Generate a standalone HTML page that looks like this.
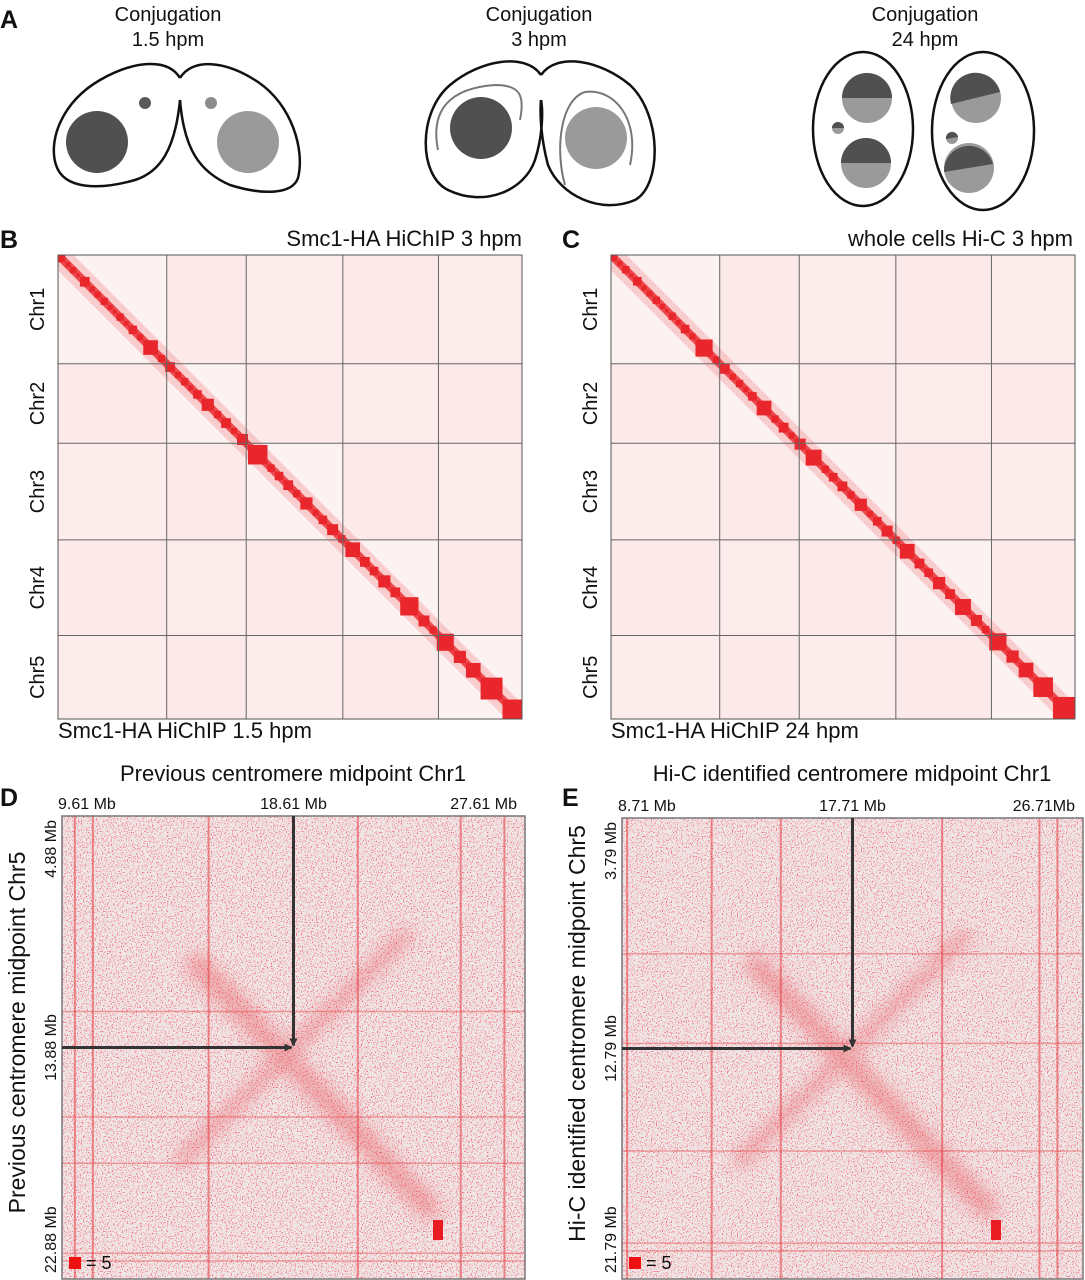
<!DOCTYPE html>
<html><head><meta charset="utf-8"><style>
html,body{margin:0;padding:0;background:#fff;width:1085px;height:1280px;overflow:hidden}
svg{display:block;font-family:"Liberation Sans",Arial,sans-serif}
</style></head><body>
<svg id="fig" width="1085" height="1280" viewBox="0 0 1085 1280">
<defs>
<filter id="speck" x="0" y="0" width="1" height="1">
<feTurbulence type="fractalNoise" baseFrequency="0.8" numOctaves="1" seed="3"/>
<feColorMatrix type="matrix" values="0 0 0 0 0.92  0 0 0 0 0.12  0 0 0 0 0.18  7 0 0 0 -3.9"/>
</filter>
<filter id="speck2" x="0" y="0" width="1" height="1">
<feTurbulence type="fractalNoise" baseFrequency="0.8" numOctaves="1" seed="9"/>
<feColorMatrix type="matrix" values="0 0 0 0 0.92  0 0 0 0 0.12  0 0 0 0 0.18  7 0 0 0 -3.9"/>
</filter>
<filter id="blur4"><feGaussianBlur stdDeviation="8"/></filter>
<clipPath id="clipB"><rect x="58" y="255" width="464" height="464"/></clipPath>
<clipPath id="clipC"><rect x="611" y="255" width="464" height="464"/></clipPath>
<marker id="arr" markerWidth="8" markerHeight="8" refX="7" refY="4" orient="auto" markerUnits="userSpaceOnUse"><path d="M0,0 L8,4 L0,8 z" fill="#333"/></marker>
</defs>

<g font-size="20" fill="#111">
<text x="0" y="28" font-size="25" font-weight="bold">A</text>
<text x="168" y="21" text-anchor="middle">Conjugation</text>
<text x="168" y="46" text-anchor="middle">1.5 hpm</text>
<text x="539" y="21" text-anchor="middle">Conjugation</text>
<text x="539" y="46" text-anchor="middle">3 hpm</text>
<text x="925" y="21" text-anchor="middle">Conjugation</text>
<text x="925" y="46" text-anchor="middle">24 hpm</text>
</g>
<g stroke="#111" stroke-width="2.5" fill="none">
<path d="M180,78 C168,58 135,60 100,80 C62,102 48,140 56,165 C64,190 100,190 135,180 C160,172 175,150 180,100"/>
<path d="M180,78 C192,58 225,60 258,82 C292,105 305,150 298,178 C292,195 262,195 230,185 C200,172 184,150 180,100"/>
<circle cx="97" cy="142" r="31" fill="#505050" stroke="none"/>
<circle cx="248" cy="142" r="31" fill="#9a9a9a" stroke="none"/>
<circle cx="145" cy="103" r="6" fill="#5a5a5a" stroke="none"/>
<circle cx="211" cy="103" r="6" fill="#8c8c8c" stroke="none"/>
</g>
<g stroke="#111" stroke-width="2.5" fill="none">
<path d="M541,75 C525,52 480,60 450,85 C418,112 418,175 448,190 C485,208 525,190 535,160 C543,135 543,110 541,100"/>
<path d="M541,75 C557,52 600,60 630,85 C662,115 662,185 635,200 C600,215 560,195 548,165 C540,135 540,110 541,100"/>
<path d="M438,150 C430,110 450,88 495,85 C520,85 525,95 520,120" stroke="#777" stroke-width="2"/>
<path d="M565,185 C555,150 560,100 585,92 C615,88 640,120 630,165" stroke="#777" stroke-width="2"/>
<circle cx="481" cy="128" r="31" fill="#505050" stroke="none"/>
<circle cx="596" cy="138" r="31" fill="#9a9a9a" stroke="none"/>
</g>
<g stroke="#111" stroke-width="2.5">
<ellipse cx="863" cy="129" rx="50" ry="77" fill="none"/>
<ellipse cx="983" cy="131" rx="51" ry="79" fill="none"/>
<circle cx="867" cy="98" r="25" fill="#9a9a9a" stroke="none"/>
<path d="M842,98 A25,25 0 0 1 892,98 z" fill="#505050" stroke="none"/>
<circle cx="866" cy="163" r="25" fill="#9a9a9a" stroke="none"/>
<path d="M841,163 A25,25 0 0 1 891,163 z" fill="#505050" stroke="none"/>
<circle cx="838" cy="128" r="6" fill="#9a9a9a" stroke="none"/>
<path d="M832,128 A6,6 0 0 1 844,128 z" fill="#505050" stroke="none"/>
<circle cx="976" cy="98" r="25" fill="#9a9a9a" stroke="none"/>
<path d="M951,104 A25,25 0 0 1 1000,92 z" fill="#505050" stroke="none"/>
<circle cx="969" cy="168" r="25" fill="#9a9a9a" stroke="none"/>
<path d="M944,172 A25,25 0 0 1 993,164 z" fill="#505050" stroke="none"/>
<circle cx="952" cy="138" r="6" fill="#9a9a9a" stroke="none"/>
<path d="M946,139 A6,6 0 0 1 958,137 z" fill="#505050" stroke="none"/>
</g>

<g font-size="22" fill="#111">
<text x="0" y="248" font-size="25" font-weight="bold">B</text>
<text x="562" y="248" font-size="25" font-weight="bold">C</text>
<text x="0" y="806" font-size="25" font-weight="bold">D</text>
<text x="562" y="806" font-size="25" font-weight="bold">E</text>
<text x="522" y="246" text-anchor="end">Smc1-HA HiChIP 3 hpm</text>
<text x="58" y="738">Smc1-HA HiChIP 1.5 hpm</text>
<text x="1073" y="246" text-anchor="end">whole cells Hi-C 3 hpm</text>
<text x="611" y="738">Smc1-HA HiChIP 24 hpm</text>
<text x="293" y="781" text-anchor="middle">Previous centromere midpoint Chr1</text>
<text x="852" y="781" text-anchor="middle">Hi-C identified centromere midpoint Chr1</text>
</g>
<g id="layer"></g>
</svg>
<script>
var chromNames = ["Chr1","Chr2","Chr3","Chr4","Chr5"];
var chromLens = [108,79,96,95,83];
var blocksB = [6,4,5,3,8,4,5,6,4,3,6,4,7,5,12,6,8,5,6,4,7,10,6,8,5,9,16,6,7,8,6,10,5,7,9,6,12,8,7,10,8,15,9,6,14,10,12,18,16];
var blocksC = [5,4,6,3,7,4,5,6,4,3,6,4,7,5,14,6,8,5,6,4,7,12,6,8,5,9,13,6,7,8,6,10,5,7,9,6,12,8,7,10,8,13,9,6,14,10,12,16,18];
var dTicks = ["9.61 Mb","18.61 Mb","27.61 Mb"];
var dYTicks = ["4.88 Mb","13.88 Mb","22.88 Mb"];
var eTicks = ["8.71 Mb","17.71 Mb","26.71Mb"];
var eYTicks = ["3.79 Mb","12.79 Mb","21.79 Mb"];
var dStreaks = [0.5,1.2,5.7,11.5,15.5,17.2];
var eStreaks = [0.2,3.5,6.2,12.5,16.3,17.0];
var dHStreaks = [7.6,11.7,13.5,17.0,17.3];
var eHStreaks = [5.3,8.8,13.0,16.6,16.9];

var NS="http://www.w3.org/2000/svg";
var layer=document.getElementById('layer');
function mk(tag,attrs,parent){var e=document.createElementNS(NS,tag);for(var k in attrs)e.setAttribute(k,attrs[k]);(parent||layer).appendChild(e);return e;}

function genome(x0,y0,size,blocks,chrX,label,clip){
  var g=mk('g',{});
  
  
  var total=chromLens.reduce(function(a,b){return a+b},0);
  function sc(v){return v/total*size;}
  var inner=mk('g',{'clip-path':'url(#'+clip+')'},g);
  mk('rect',{x:x0,y:y0,width:size,height:size,fill:'#fdf2f2'},inner);
  var acc=0;
  for(var i=0;i<chromLens.length;i++){
    var acc2=0;
    for(var j=0;j<chromLens.length;j++){
      if(i!==j){mk('rect',{x:x0+sc(acc2),y:y0+sc(acc),width:sc(chromLens[j]),height:sc(chromLens[i]),fill:'#fbe2e2',opacity:((i+j)%2?0.6:0.35)},inner);}
      acc2+=chromLens[j];
    }
    acc+=chromLens[i];
  }
  mk('line',{x1:x0,y1:y0,x2:x0+size,y2:y0+size,stroke:'#f28a8a','stroke-width':22,opacity:0.35},inner);
  mk('line',{x1:x0,y1:y0,x2:x0+size,y2:y0+size,stroke:'#ec4a4e','stroke-width':8},inner);
  var btot=blocks.reduce(function(a,b){return a+b},0);
  var p=0;
  for(var k=0;k<blocks.length;k++){
    var s=blocks[k]/btot*size;
    var b=mk('rect',{x:x0+p,y:y0+p,width:s,height:s,fill:'#e8262b'},inner);
    
    
    p+=s;
  }
  acc=0;
  for(var i=0;i<chromLens.length;i++){
    var c0=acc; acc+=chromLens[i];
    if(i<chromLens.length-1){
      mk('line',{x1:x0+sc(acc),y1:y0,x2:x0+sc(acc),y2:y0+size,stroke:'#666','stroke-width':1},g);
      mk('line',{x1:x0,y1:y0+sc(acc),x2:x0+size,y2:y0+sc(acc),stroke:'#666','stroke-width':1},g);
    }
    var cy=y0+sc(c0+chromLens[i]/2);
    var t=mk('text',{x:chrX,y:cy,'font-size':20,'text-anchor':'middle',fill:'#111',transform:'rotate(-90 '+chrX+' '+cy+')'},g);
    t.textContent=chromNames[i];
    
    
  }
  mk('rect',{x:x0,y:y0,width:size,height:size,fill:'none',stroke:'#555','stroke-width':1},g);
}
genome(58,255,464,blocksB,44,'heatmap-b','clipB');
genome(611,255,464,blocksC,597,'heatmap-c','clipC');

function local(x0,y0,size,ticks,yticks,streaks,hstreaks,filt,ytitle,label){
  var g=mk('g',{});
  
  
  var span=18; function sx(v){return x0+v/span*size;} function sy(v){return y0+v/span*size;}
  mk('rect',{x:x0,y:y0,width:size,height:size,fill:'#efe6e6'},g);
  mk('rect',{x:x0,y:y0,width:size,height:size,filter:'url(#'+filt+')'},g);
  var bd=mk('g',{filter:'url(#blur4)',opacity:0.35},g);
  mk('line',{x1:sx(5),y1:sy(5.5),x2:sx(14.5),y2:sy(15.5),stroke:'#e8383c','stroke-width':22},bd);
  mk('line',{x1:sx(4.5),y1:sy(13.5),x2:sx(13.5),y2:sy(4.5),stroke:'#e8383c','stroke-width':14},bd);
  for(var i=0;i<streaks.length;i++){
    var l=mk('line',{x1:sx(streaks[i]),y1:y0,x2:sx(streaks[i]),y2:y0+size,stroke:'#e53a3e','stroke-width':2,opacity:0.55},g);
    
    
  }
  for(var i=0;i<hstreaks.length;i++){
    var l=mk('line',{x1:x0,y1:sy(hstreaks[i]),x2:x0+size,y2:sy(hstreaks[i]),stroke:'#e53a3e','stroke-width':1.5,opacity:0.4},g);
    
    
  }
  mk('rect',{x:x0,y:y0,width:size,height:size,fill:'none',stroke:'#777','stroke-width':1.5},g);
  var cx=sx(9), cy=sy(9);
  mk('line',{x1:cx,y1:y0,x2:cx,y2:cy-2,stroke:'#333','stroke-width':3,'marker-end':'url(#arr)'},g);
  mk('line',{x1:x0,y1:cy,x2:cx-2,y2:cy,stroke:'#333','stroke-width':3,'marker-end':'url(#arr)'},g);
  var anchors=['start','middle','end'];
  for(var i=0;i<3;i++){
    var tx=(i===0?x0-4:(i===1?cx:x0+size-8));
    var t=mk('text',{x:tx,y:y0-7,'font-size':16,'text-anchor':anchors[i],fill:'#111'},g);
    t.textContent=ticks[i];
    
    
  }
  var ypos=[y0+4,cy,y0+size-6];
  var yanch=['end','middle','start'];
  for(var i=0;i<3;i++){
    var lx=x0-6;
    var t=mk('text',{x:lx,y:ypos[i],'font-size':16,'text-anchor':yanch[i],fill:'#111',transform:'rotate(-90 '+lx+' '+ypos[i]+')'},g);
    t.textContent=yticks[i];
    
    
  }
  var tx=x0-37, ty=y0+size/2-15;
  var t=mk('text',{x:tx,y:ty,'font-size':23,'text-anchor':'middle',fill:'#111',transform:'rotate(-90 '+tx+' '+ty+')'},g);
  t.textContent=ytitle;
  
  
  var lg=mk('rect',{x:x0+7,y:y0+size-22,width:12,height:12,fill:'#ee1111'},g);
  
  
  var lt=mk('text',{x:x0+24,y:y0+size-10,'font-size':18,fill:'#111'},g);
  lt.textContent='= 5';
  
  
  mk('rect',{x:x0+size-92,y:y0+size-59,width:10,height:20,fill:'#e81c22'},g);
}
local(62,816,463,dTicks,dYTicks,dStreaks,dHStreaks,'speck','Previous centromere midpoint Chr5','heatmap-d');
local(622,818,461,eTicks,eYTicks,eStreaks,eHStreaks,'speck2','Hi-C identified centromere midpoint Chr5','heatmap-e');
</script>
</body></html>
